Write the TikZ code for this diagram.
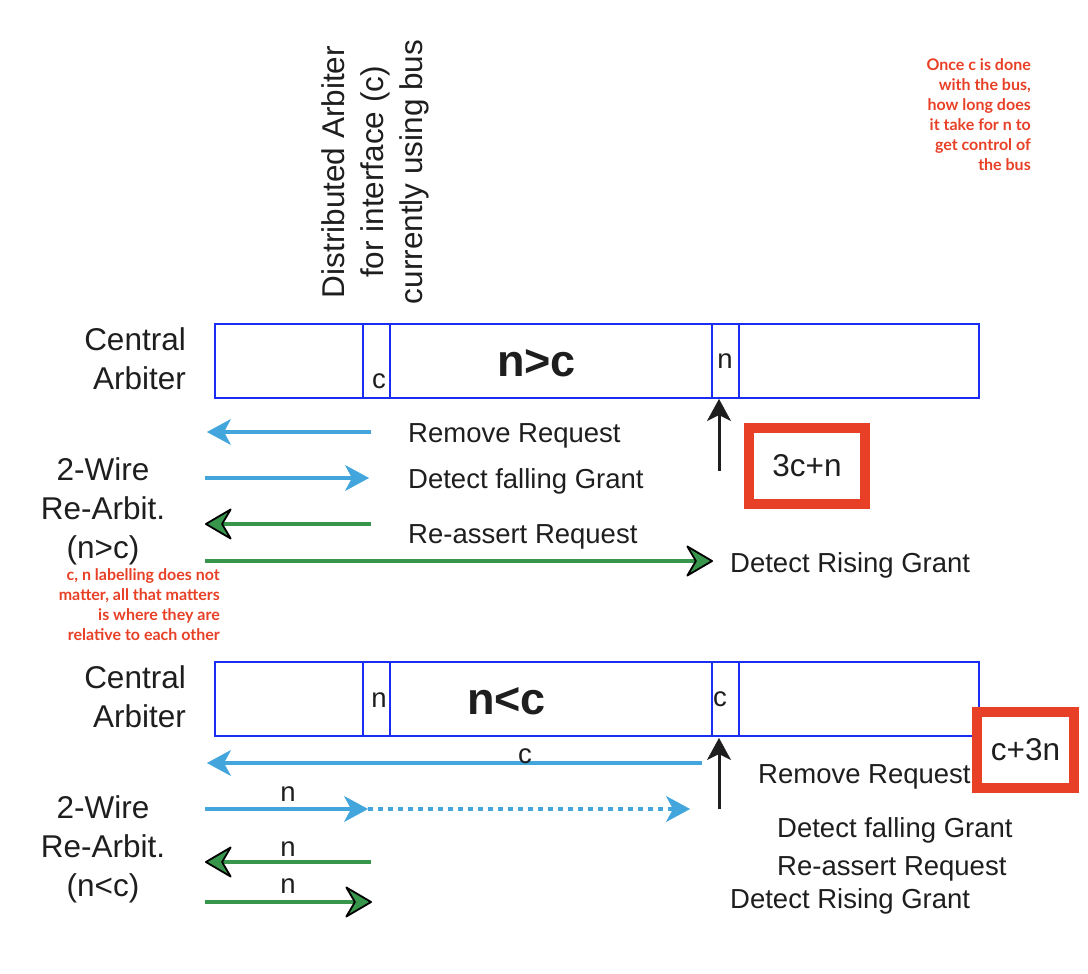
\documentclass[tikz,border=0pt]{standalone}
\usepackage{fontspec}
\setmainfont{Liberation Sans}
\newfontfamily\notefont{Lato}
\usetikzlibrary{arrows.meta}
\definecolor{boxblue}{RGB}{25,45,245}
\definecolor{arrowblue}{RGB}{66,165,220}
\definecolor{arrowgreen}{RGB}{55,150,75}
\definecolor{redc}{RGB}{232,64,38}
\definecolor{txt}{RGB}{30,30,30}
\begin{document}
\begin{tikzpicture}[x=1pt,y=-1pt,
  lbl/.style={inner sep=0pt, text=txt, font=\fontsize{31.5}{39}\selectfont},
  arrlbl/.style={inner sep=0pt, text=txt, font=\fontsize{27.5}{33}\selectfont},
  biglbl/.style={inner sep=0pt, text=txt, font=\bfseries\fontsize{45}{50}\selectfont},
  cell/.style={draw=boxblue, line width=2pt, inner sep=0pt, minimum height=74pt, anchor=north west},
  note/.style={inner sep=0pt, text=redc, align=right, font=\notefont\bfseries\fontsize{16}{20}\selectfont},
  sumbox/.style={draw=redc, line width=10pt, inner sep=0pt, text=txt, font=\fontsize{31.5}{39}\selectfont},
  bluearr/.style={draw=arrowblue, line width=4.5pt, -{Stealth[length=24pt,width=26pt,inset=7pt,line width=0.5pt]}},
  dotarr/.style={draw=arrowblue, line width=4.5pt, dash pattern=on 5pt off 5pt, -{Stealth[length=24pt,width=26pt,inset=7pt,line width=0.5pt]}},
  greenarr/.style={draw=arrowgreen, line width=4pt, -{Stealth[length=29pt,width=34pt,inset=10pt,round,color=black,fill=arrowgreen,line width=1.8pt]}},
  uparr/.style={draw=txt, line width=3pt, -{Stealth[length=22pt,width=24pt,inset=6pt,line width=0.5pt]}}
]
\useasboundingbox (0,0) rectangle (1088,974);

% notes
\node[note, anchor=north east] (note1) at (1031,58) {Once c is done\\with the bus,\\how long does\\it take for n to\\get control of\\the bus};
\node[note, anchor=north east] (note2) at (220,568) {c, n labelling does not\\matter, all that matters\\is where they are\\relative to each other};

% rotated label
\node[lbl, rotate=90, align=center] (dist) at (375,172) {Distributed Arbiter\\for interface (c)\\currently using bus};

% ===== top (n>c) =====
\node[lbl, align=right, anchor=north east] (ca1) at (186,327) {Central\\Arbiter};
\node[cell, minimum width=148pt] (t1) at (214,323) {};
\node[cell, minimum width=27pt] (t2) at (362,323) {};
\node[cell, minimum width=322pt] (t3) at (389,323) {};
\node[cell, minimum width=27pt] (t4) at (711,323) {};
\node[cell, minimum width=240pt] (t5) at (738,323) {};
\node[arrlbl, anchor=base] (tc) at (379,388) {c};
\node[biglbl, anchor=base west] (tnc) at (497,376) {n>c};
\node[arrlbl, anchor=base] (tn) at (725,368) {n};

\node[lbl, align=center, anchor=north] (rw1) at (103,457) {2-Wire\\Re-Arbit.\\(n>c)};

\coordinate (a1s) at (371,432); \coordinate (a1e) at (207,432);
\coordinate (a2s) at (205,478); \coordinate (a2e) at (369,478);
\coordinate (a3s) at (371,524); \coordinate (a3e) at (205,524);
\coordinate (a4s) at (205,561); \coordinate (a4e) at (713,561);
\draw[bluearr] (a1s) -- (a1e);
\draw[bluearr] (a2s) -- (a2e);
\draw[greenarr] (a3s) -- (a3e);
\draw[greenarr] (a4s) -- (a4e);
\node[arrlbl, anchor=base west] (l1) at (408,442) {Remove Request};
\node[arrlbl, anchor=base west] (l2) at (408,488) {Detect falling Grant};
\node[arrlbl, anchor=base west] (l3) at (408,543) {Re-assert Request};
\node[arrlbl, anchor=base west] (l4) at (730,572) {Detect Rising Grant};

\coordinate (u1s) at (719,471); \coordinate (u1e) at (719,399);
\draw[uparr] (u1s) -- (u1e);

\node[sumbox, minimum width=116pt, minimum height=76pt] (s1) at (807,466) {3c+n};

% ===== bottom (n<c) =====
\node[lbl, align=right, anchor=north east] (ca2) at (186,665) {Central\\Arbiter};
\node[cell, minimum width=148pt] (b1) at (214,661) {};
\node[cell, minimum width=27pt] (b2) at (362,661) {};
\node[cell, minimum width=322pt] (b3) at (389,661) {};
\node[cell, minimum width=27pt] (b4) at (711,661) {};
\node[cell, minimum width=240pt] (b5) at (738,661) {};
\node[arrlbl, anchor=base] (bn) at (379,707) {n};
\node[biglbl, anchor=base west] (bnc) at (467,714) {n<c};
\node[arrlbl, anchor=base] (bc) at (720,706) {c};

\node[lbl, align=center, anchor=north] (rw2) at (103,795) {2-Wire\\Re-Arbit.\\(n<c)};

\coordinate (b1s) at (702,763); \coordinate (b1e) at (207,763);
\coordinate (b2s) at (205,809); \coordinate (b2e) at (368,809);
\coordinate (b2d) at (690,809);
\coordinate (b3s) at (371,862); \coordinate (b3e) at (205,862);
\coordinate (b4s) at (205,902); \coordinate (b4e) at (372,902);
\draw[bluearr] (b1s) -- (b1e);
\draw[bluearr] (b2s) -- (b2e);
\draw[dotarr] (b2e) -- (b2d);
\draw[greenarr] (b3s) -- (b3e);
\draw[greenarr] (b4s) -- (b4e);
\node[arrlbl, anchor=base] (cc) at (525,763) {c};
\node[arrlbl, anchor=base] (n1) at (288,801) {n};
\node[arrlbl, anchor=base] (n2) at (288,856) {n};
\node[arrlbl, anchor=base] (n3) at (288,893) {n};

\node[arrlbl, anchor=base west] (m1) at (758,783) {Remove Request};
\node[arrlbl, anchor=base west] (m2) at (777,837) {Detect falling Grant};
\node[arrlbl, anchor=base west] (m3) at (777,875) {Re-assert Request};
\node[arrlbl, anchor=base west] (m4) at (730,908) {Detect Rising Grant};

\coordinate (u2s) at (719,809); \coordinate (u2e) at (719,738);
\draw[uparr] (u2s) -- (u2e);

\node[sumbox, minimum width=97pt, minimum height=76pt] (s2) at (1025.5,750) {c+3n};
\end{tikzpicture}
\end{document}
